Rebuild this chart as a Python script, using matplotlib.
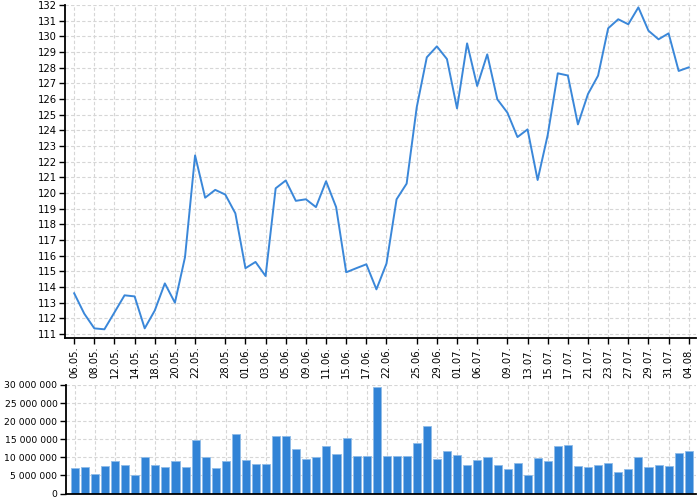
import matplotlib
matplotlib.use("Agg")
import matplotlib.pyplot as plt
from matplotlib.ticker import FuncFormatter
import numpy as np

# closing price, one value per trading day
price = [
    113.6, 112.3, 111.36, 111.3, 112.38, 113.47, 113.4, 111.36, 112.5, 114.23,
    113.0, 115.9, 122.4, 119.7, 120.2, 119.9, 118.7, 115.2, 115.6, 114.7,
    120.3, 120.8, 119.5, 119.6, 119.1, 120.75, 119.1, 114.94, 115.2, 115.45,
    113.85, 115.5, 119.6, 120.6, 125.47, 128.66, 129.36, 128.55, 125.4, 129.55,
    126.83, 128.85, 125.98, 125.13, 123.57, 124.06, 120.83, 123.7, 127.64, 127.5,
    124.38, 126.32, 127.49, 130.51, 131.09, 130.77, 131.85, 130.36, 129.81, 130.19,
    127.79, 128.02,
]

# traded volume, millions
volume_m = [
    7.1, 7.2, 5.5, 7.6, 9.0, 8.0, 5.2, 10.0, 7.9, 7.4,
    9.0, 7.3, 14.7, 10.0, 7.0, 9.1, 16.5, 9.2, 8.2, 8.1,
    15.8, 15.8, 12.2, 9.5, 10.2, 13.1, 10.8, 15.3, 10.5, 10.3,
    29.5, 10.4, 10.3, 10.3, 13.9, 18.8, 9.5, 11.7, 10.6, 7.8,
    9.4, 10.1, 7.8, 6.8, 8.3, 5.1, 9.8, 9.0, 13.0, 13.4,
    7.6, 7.2, 7.8, 8.4, 6.0, 6.7, 10.2, 7.4, 7.8, 7.6,
    11.1, 11.7,
]

tick_pos = [0, 2, 4, 6, 8, 10, 12, 15, 17, 19, 21, 23, 25, 27, 29, 31,
            34, 36, 38, 40, 43, 45, 47, 49, 51, 53, 55, 57, 59, 61]
tick_labels = [
    "06.05.", "08.05.", "12.05.", "14.05.", "18.05.", "20.05.", "22.05.",
    "28.05.", "01.06.", "03.06.", "05.06.", "09.06.", "11.06.", "15.06.",
    "17.06.", "22.06.", "25.06.", "29.06.", "01.07.", "06.07.", "09.07.",
    "13.07.", "15.07.", "17.07.", "21.07.", "23.07.", "27.07.", "29.07.",
    "31.07.", "04.08.",
]

LINE = "#3a87d9"
BAR = "#3183d6"
GRID = "#d6d6d6"
FS = 7.2

x = np.arange(len(price))
volume = np.array(volume_m) * 1e6

fig = plt.figure(figsize=(7, 5), dpi=100)
ax1 = fig.add_axes([0.093, 0.324, 0.901, 0.666])
ax2 = fig.add_axes([0.094, 0.013, 0.900, 0.217])


def style(ax):
    for side in ("top", "right"):
        ax.spines[side].set_visible(False)
    for side in ("left", "bottom"):
        ax.spines[side].set_linewidth(1.3)
    ax.grid(True, color=GRID, linestyle=(0, (3, 2)), linewidth=0.8)
    ax.set_axisbelow(True)
    ax.tick_params(labelsize=FS, length=4, width=1, pad=2)
    ax.set_xlim(-0.9, 61.7)
    ax.set_xticks(tick_pos)


ax1.plot(x, price, color=LINE, linewidth=1.4)
style(ax1)
ax1.set_ylim(110.745, 132)
ax1.set_yticks(range(111, 133))
ax1.set_xticklabels(tick_labels, rotation=90)

ax2.bar(x, volume, width=0.8, color=BAR, edgecolor="#8fbce8", linewidth=0.6)
style(ax2)
ax2.set_ylim(0, 30e6)
ax2.set_yticks(np.arange(0, 30e6 + 1, 5e6))
ax2.yaxis.set_major_formatter(FuncFormatter(lambda v, _: f"{int(v):,}".replace(",", " ")))
ax2.tick_params(axis="y", labelsize=6.7)
ax2.tick_params(axis="x", labelbottom=False, length=0)

fig.savefig("out.png", dpi=100)
